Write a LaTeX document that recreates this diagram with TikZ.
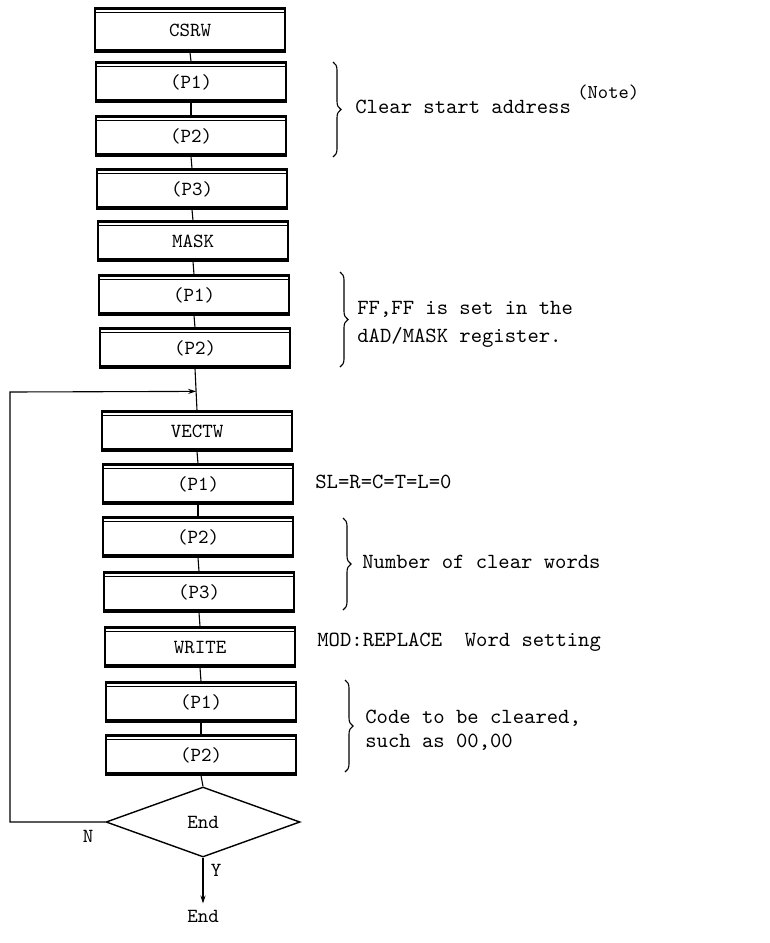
\documentclass[tikz,border=0pt]{standalone}
\usepackage{fontspec}
\usetikzlibrary{shapes.geometric,decorations.pathreplacing,arrows.meta}
\begin{document}
\begin{tikzpicture}[x=0.5pt,y=-0.5pt,
  stepbox/.style={rectangle, draw, line width=0.55pt, minimum width=95pt,
    minimum height=20pt, inner sep=0pt,
    font=\fontsize{10}{12}\selectfont\ttfamily,
    path picture={
      \draw[line width=3pt] (path picture bounding box.south west) -- (path picture bounding box.south east);
      \draw[line width=1.8pt] (path picture bounding box.north west) -- (path picture bounding box.north east);
      \draw[line width=0.4pt] ([yshift=-2.1pt]path picture bounding box.north west) -- ([yshift=-2.1pt]path picture bounding box.north east);
    }},
  decision/.style={diamond, draw, line width=0.7pt, minimum width=97pt,
    minimum height=35pt, inner sep=0pt, font=\fontsize{10}{12}\selectfont\ttfamily},
  plain/.style={inner sep=0pt, font=\fontsize{10}{12}\selectfont\ttfamily},
  note/.style={anchor=west, inner sep=0pt, align=left,
    font=\fontsize{10.8}{14}\selectfont\ttfamily},
  curly/.style={decorate, decoration={brace, amplitude=4pt}, line width=0.55pt},
  link/.style={line width=0.55pt},
  tip/.style={-{Stealth[length=4pt,width=2.6pt]}}
]
\useasboundingbox[fill=white] (0,0) rectangle (770,943);

% main sequence of command / parameter boxes
\node[stepbox, minimum height=22pt] (csrw) at (190,30) {CSRW};
\node[stepbox] (a1) at (191,82) {(P1)};
\node[stepbox] (a2) at (191,136) {(P2)};
\node[stepbox] (a3) at (192,189) {(P3)};
\node[stepbox] (mask) at (193,241) {MASK};
\node[stepbox] (b1) at (194,295) {(P1)};
\node[stepbox] (b2) at (195,348) {(P2)};
\node[stepbox] (vectw) at (197,431) {VECTW};
\node[stepbox] (c1) at (198,484) {(P1)};
\node[stepbox] (c2) at (198,537) {(P2)};
\node[stepbox] (c3) at (199,592) {(P3)};
\node[stepbox] (write) at (200,647) {WRITE};
\node[stepbox] (d1) at (201,702) {(P1)};
\node[stepbox] (d2) at (201,755) {(P2)};
\node[decision] (dec) at (203,822) {End};
\node[plain, inner sep=3pt] (endn) at (203,916) {End};

% vertical connectors
\foreach \u/\v in {csrw/a1, a1/a2, a2/a3, a3/mask, mask/b1, b1/b2, b2/vectw,
                   vectw/c1, c1/c2, c2/c3, c3/write, write/d1, d1/d2, d2/dec}
  \draw[link] (\u.south) -- (\v.north);
\draw[link, tip] (dec.south) -- (endn.north);

% loop back for the "N" branch
\path (b2.south) -- (vectw.north) coordinate[pos=0.545] (join);
\coordinate (corner) at (10,392);
\draw[link, tip] (dec.west) -| (corner) -- (join);
\node[plain] (nlab) at (88,836) {N};
\node[plain] (ylab) at (216,870) {Y};

% annotations
\draw[curly] (333,62) -- (333,157);
\node[note] (n1) at (355,107) {Clear start address};
\node[plain, anchor=west, font=\fontsize{9.8}{11}\selectfont\ttfamily] (n1s) at (577,92) {(Note)};

\draw[curly] (340,272) -- (340,367);
\node[note] (n2) at (357,324) {FF,FF is set in the\\dAD/MASK register.};

\node[note] (n3) at (315,482) {SL=R=C=T=L=0};

\draw[curly] (343,518) -- (343,610);
\node[note] (n4) at (362,562) {Number of clear words};

\node[note] (n5) at (317,642) {MOD:REPLACE~~Word setting};

\draw[curly] (345,680) -- (345,772);
\node[note, font=\fontsize{10.8}{12}\selectfont\ttfamily] (n6) at (365,730) {Code to be cleared,\\such as 00,00};
\end{tikzpicture}
\end{document}
